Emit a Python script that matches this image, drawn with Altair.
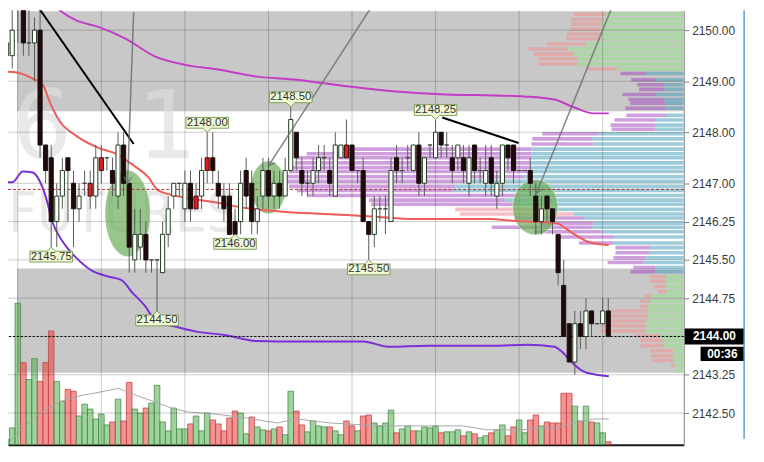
import math
import altair as alt
import pandas as pd

# 5-minute bars, oldest first (prices in index points)
opens = [2149.25, 2149.5, 2149.5, 2150.75, 2151.0, 2149.75, 2149.75, 2150.0, 2147.75, 2147.5,
         2146.25, 2146.75, 2147.5, 2147.0, 2146.5, 2147.0, 2147.0, 2146.75, 2147.5, 2147.5,
         2147.25, 2146.75, 2147.75, 2147.0, 2145.5, 2145.75, 2146.0, 2145.5, 2145.5, 2145.25,
         2146.0, 2146.75, 2147.0, 2146.5, 2147.0, 2146.75, 2146.75, 2147.5, 2147.5, 2147.0,
         2146.75, 2146.75, 2146.25, 2146.25, 2147.25, 2147.0, 2146.25, 2146.75, 2147.25, 2146.75,
         2147.0, 2146.75, 2147.25, 2148.0, 2147.25, 2147.0, 2147.0, 2147.25, 2147.5, 2147.25,
         2146.75, 2147.5, 2147.75, 2147.75, 2147.25, 2147.25, 2146.25, 2146.0, 2146.5, 2146.5,
         2146.25, 2147.5, 2147.25, 2147.5, 2147.25, 2147.75, 2147.0, 2147.75, 2147.5, 2148.0,
         2147.75, 2147.5, 2147.5, 2147.5, 2147.0, 2147.75, 2147.25, 2147.0, 2147.5, 2146.75,
         2147.0, 2147.75, 2147.75, 2147.25, 2147.25, 2147.25, 2146.75, 2146.25, 2146.75, 2146.5,
         2146.0, 2145.0, 2144.25, 2143.5, 2144.25, 2144.0, 2144.5, 2144.25, 2144.25, 2144.5]
highs = [2149.75, 2150.0, 2150.5, 2151.5, 2151.25, 2150.5, 2150.25, 2150.5, 2147.75, 2147.75,
         2147.0, 2147.5, 2147.5, 2147.25, 2147.0, 2147.25, 2147.25, 2147.75, 2147.75, 2147.5,
         2147.5, 2148.0, 2148.0, 2147.0, 2146.5, 2146.5, 2146.25, 2145.5, 2145.5, 2146.25,
         2146.75, 2147.0, 2147.0, 2147.25, 2147.25, 2147.0, 2147.5, 2148.0, 2148.0, 2147.25,
         2147.0, 2147.0, 2146.5, 2147.25, 2147.5, 2147.25, 2146.75, 2147.5, 2147.5, 2147.25,
         2147.25, 2147.5, 2148.5, 2148.0, 2147.5, 2147.25, 2147.5, 2147.75, 2147.75, 2147.5,
         2148.0, 2147.75, 2148.25, 2147.75, 2147.25, 2147.5, 2146.25, 2146.75, 2146.75, 2146.75,
         2147.5, 2147.75, 2147.5, 2147.75, 2147.75, 2148.0, 2147.5, 2147.75, 2148.25, 2148.0,
         2148.0, 2147.75, 2147.75, 2147.75, 2147.75, 2147.75, 2147.5, 2147.75, 2147.75, 2147.25,
         2147.75, 2147.75, 2147.75, 2147.25, 2147.25, 2147.5, 2147.0, 2146.75, 2146.75, 2146.5,
         2146.0, 2145.5, 2144.25, 2144.5, 2144.5, 2144.75, 2144.5, 2144.25, 2144.75, 2144.75]
lows = [2149.0, 2149.25, 2149.25, 2149.75, 2149.5, 2149.5, 2149.0, 2147.5, 2147.0, 2145.75,
        2145.75, 2146.5, 2146.25, 2145.75, 2146.25, 2146.75, 2146.5, 2146.5, 2147.0, 2147.25,
        2146.75, 2146.5, 2146.75, 2145.25, 2145.25, 2145.5, 2145.25, 2145.25, 2144.5, 2145.25,
        2145.75, 2146.5, 2146.75, 2146.25, 2146.25, 2146.5, 2146.5, 2147.0, 2147.0, 2146.5,
        2146.25, 2146.0, 2146.0, 2146.0, 2146.5, 2146.0, 2146.0, 2146.5, 2146.5, 2146.5,
        2146.5, 2146.75, 2147.25, 2147.25, 2146.75, 2146.75, 2146.75, 2147.0, 2147.25, 2146.75,
        2146.75, 2147.5, 2147.5, 2147.25, 2147.0, 2146.25, 2145.5, 2145.75, 2146.25, 2146.0,
        2146.25, 2147.0, 2147.0, 2147.25, 2147.25, 2146.75, 2146.75, 2147.5, 2147.5, 2147.5,
        2147.5, 2147.0, 2147.25, 2147.0, 2146.75, 2147.0, 2147.0, 2146.75, 2146.75, 2146.5,
        2146.75, 2147.25, 2147.0, 2147.25, 2147.25, 2146.75, 2146.0, 2146.0, 2146.25, 2146.0,
        2145.0, 2144.0, 2143.5, 2143.25, 2143.75, 2143.75, 2144.0, 2144.25, 2144.25, 2144.0]
closes = [2149.5, 2149.75, 2150.0, 2151.25, 2149.75, 2149.75, 2150.0, 2147.75, 2147.25, 2146.25,
          2146.75, 2147.25, 2147.25, 2146.5, 2146.75, 2147.0, 2146.75, 2147.5, 2147.25, 2147.5,
          2147.0, 2147.75, 2147.0, 2145.75, 2146.0, 2146.0, 2145.5, 2145.5, 2145.5, 2146.0,
          2146.5, 2147.0, 2147.0, 2147.0, 2146.5, 2146.5, 2147.25, 2147.25, 2147.25, 2146.75,
          2146.5, 2146.0, 2146.0, 2147.0, 2146.75, 2146.25, 2146.5, 2147.25, 2146.75, 2147.0,
          2146.75, 2147.25, 2148.25, 2147.5, 2147.0, 2147.0, 2147.25, 2147.5, 2147.5, 2147.0,
          2147.75, 2147.75, 2147.5, 2147.25, 2147.25, 2146.25, 2146.0, 2146.5, 2146.5, 2146.5,
          2147.25, 2147.25, 2147.25, 2147.5, 2147.75, 2147.0, 2147.5, 2147.75, 2148.0, 2147.75,
          2147.75, 2147.25, 2147.75, 2147.25, 2147.5, 2147.25, 2147.25, 2147.25, 2147.0, 2147.0,
          2147.75, 2147.5, 2147.25, 2147.25, 2147.25, 2147.0, 2146.25, 2146.5, 2146.5, 2146.25,
          2145.25, 2144.0, 2143.5, 2144.25, 2144.0, 2144.5, 2144.25, 2144.25, 2144.5, 2144.0]
red_bars = [16, 18, 35, 37, 62]

volume = [5, 5, 17, 143, 83, 66, 87, 64, 83, 115,
          64, 44, 56, 54, 29, 41, 36, 26, 31, 20,
          23, 46, 24, 63, 36, 32, 37, 42, 60, 23,
          14, 37, 16, 16, 21, 29, 14, 32, 25, 21,
          14, 27, 34, 32, 11, 28, 18, 15, 14, 16,
          18, 10, 54, 34, 20, 13, 24, 19, 18, 18,
          14, 10, 24, 19, 14, 29, 30, 22, 19, 22,
          35, 12, 16, 19, 14, 14, 18, 17, 19, 12,
          13, 13, 15, 9, 13, 11, 7, 9, 12, 15,
          20, 9, 18, 25, 12, 25, 30, 19, 23, 22,
          22, 52, 52, 39, 24, 39, 23, 22, 12, 3]
volume_side = ("ggggrggrrr" "ggrrgggggg" "rgrrggrggg" "ggggrgggrr" "rrrggrggrg"
               "rggrrggggr" "ggrrgrrggg" "grggrggggr" "gggrgrggrg" "grrggrrgrr"
               "rrrgrgrggr")

# volume moving average, read at bar positions
vma_bar = [1.6, 3.4, 5.7, 8.7, 11.7, 14.6, 17.6, 21.1, 22.4, 24.7, 27.7, 30.6, 33.6, 38.4, 41.2, 44.2,
           47.2, 49.6, 51.3, 53.1, 59.0, 65.0, 70.9, 78.0, 82.8, 87.4, 93.4, 96.3, 99.8, 102.8, 106.4, 109.1]
vma_val = [4, 14, 26, 38, 46, 50, 53, 57, 54, 49, 43, 37, 33, 31, 29, 27,
           24, 22, 24, 26, 22, 20, 19, 19, 19, 15, 15, 17, 17, 22, 26, 26]

# price indicator lines
upper_bar = [9.1, 11.0, 13.5, 17.6, 22.4, 27.7, 33.0, 38.4, 46.0, 53.1, 62.0, 70.9, 79.8, 88.6, 94.0,
             99.3, 102.8, 106.4, 109.1]
upper_price = [2150.54, 2150.35, 2150.19, 2150.06, 2149.83, 2149.48, 2149.32, 2149.24, 2149.09, 2149.03,
               2148.90, 2148.80, 2148.74, 2148.72, 2148.70, 2148.64, 2148.49, 2148.37, 2148.37]
mid_bar = [-0.2, 2.8, 5.7, 7.5, 8.7, 10.5, 13.5, 17.6, 20.6, 23.4, 26.5, 28.2, 33.0, 38.4, 44.2, 50.1,
           56.1, 62.0, 67.9, 73.9, 79.8, 87.7, 92.5, 99.6, 102.5, 105.5, 109.1]
mid_price = [2149.19, 2149.17, 2149.05, 2148.93, 2148.60, 2148.22, 2147.93, 2147.69, 2147.58, 2147.38,
             2147.11, 2146.86, 2146.72, 2146.63, 2146.51, 2146.45, 2146.41, 2146.38, 2146.34, 2146.30,
             2146.30, 2146.30, 2146.26, 2146.22, 2146.03, 2145.85, 2145.79]
lower_bar = [-0.2, 2.0, 3.9, 5.7, 6.9, 8.2, 9.1, 10.1, 11.7, 13.5, 16.3, 19.4, 21.7, 23.4, 25.9, 27.9,
             30.6, 35.3, 40.1, 46.0, 53.1, 65.0, 69.6, 76.7, 88.6, 94.5, 99.3, 100.5, 102.3, 104.6,
             106.4, 109.1]
lower_price = [2147.02, 2147.02, 2147.23, 2147.21, 2147.05, 2146.67, 2146.28, 2146.03, 2145.76, 2145.54,
               2145.29, 2145.17, 2145.10, 2144.88, 2144.59, 2144.28, 2144.21, 2144.09, 2144.03, 2143.91,
               2143.90, 2143.90, 2143.80, 2143.82, 2143.82, 2143.84, 2143.80, 2143.72, 2143.51, 2143.31,
               2143.26, 2143.22]

# volume profile at the right edge: total and ask part per price row
prof_price = [2150.50, 2150.43, 2150.31, 2150.21, 2150.12, 2150.02, 2149.92, 2149.83, 2149.73, 2149.63,
              2149.53, 2149.44, 2149.34, 2149.24, 2149.15, 2149.03, 2148.93, 2148.84, 2148.74, 2148.64,
              2148.57, 2148.47, 2148.33, 2148.24, 2148.14, 2148.06, 2147.97, 2147.87, 2147.77, 2147.67,
              2147.58, 2147.50, 2147.40, 2147.31, 2147.23, 2147.13, 2147.04, 2146.94, 2146.86, 2146.76,
              2146.67, 2146.59, 2146.49, 2146.40, 2146.32, 2146.22, 2146.14, 2146.05, 2145.95, 2145.83,
              2145.74, 2145.64, 2145.54, 2145.45, 2145.35, 2145.27, 2145.17, 2145.08, 2144.98, 2144.88,
              2144.79, 2144.69, 2144.59, 2144.50, 2144.40, 2144.30, 2144.21, 2144.11, 2144.01, 2143.92,
              2143.82, 2143.72, 2143.62, 2143.53, 2143.43, 2143.33]
prof_total = [105, 109, 111, 114, 114, 116, 118, 119, 138, 158,
              152, 148, 147, 98, 64, 53, 47, 45, 62, 56,
              54, 59, 58, 70, 74, 73, 143, 153, 154, 348,
              381, 391, 393, 396, 399, 401, 401, 399, 391, 381,
              318, 316, 231, 226, 171, 146, 194, 151, 129, 106,
              69, 69, 71, 77, 51, 54, 34, 34, 30, 26,
              39, 44, 44, 74, 74, 74, 84, 84, 49, 44,
              44, 34, 33, 32, 13, 9]
prof_ask = [71, 79, 79, 81, 84, 84, 84, 84, 99, 117,
            112, 108, 108, 68, 39, 28, 20, 20, 28, 20,
            19, 19, 18, 28, 29, 29, 86, 93, 91, 154,
            154, 154, 155, 154, 154, 161, 221, 231, 233, 166,
            181, 171, 131, 111, 101, 91, 93, 83, 71, 71,
            34, 34, 39, 41, 29, 29, 18, 18, 18, 18,
            33, 34, 36, 36, 36, 38, 38, 38, 24, 21,
            21, 11, 11, 11, 9, 9]
prof_zone = ("oooooooooooooo" "iiiiiiiiiiiiiiiiiiiiiiiiiiii" "pp" "iiiiiiiiiiii" "oooooooooooooooooooo")

tick_prices = [2150.0, 2149.0, 2148.0, 2147.0, 2146.25, 2145.5, 2144.75, 2144.0, 2143.25, 2142.5]
session_bars = [3, 18, 33, 48, 63, 78, 93, 108]
band_lo = [2148.41, 2143.29]
band_hi = [2150.37, 2145.33]
band_from = 2.85

swing_bar = [9, 37, 42, 28, 52, 66, 78]
swing_price = [2145.75, 2148.00, 2146.00, 2144.50, 2148.50, 2145.50, 2148.25]
swing_side = ["low", "high", "low", "low", "high", "low", "high"]

zone_bar = [22.7, 48.0, 95.9]
zone_price = [2146.41, 2146.92, 2146.53]

trend_bar = [[6.93, 23.8], [79.2, 92.9]]
trend_price = [[2150.41, 2147.77], [2148.29, 2147.79]]

arrow_bar = [[23.8, 22.7], [67.0, 48.0], [110.0, 96.1]]
arrow_price = [[2150.35, 2147.0], [2150.54, 2147.34], [2150.54, 2146.80]]

prior_close = 2146.88
timer = "00:36"

# ---- layout ----
BAR_PX = 5.63
PT_PX = 51.6
W, H = 683, 439
XD = [7 / BAR_PX, 690 / BAR_PX]
YD = [2150 - 419 / PT_PX, 2150 + 20 / PT_PX]
FONT = "Liberation Sans"


def X(f, **kw):
    return alt.X(f"{f}:Q", scale=alt.Scale(domain=XD, nice=False, zero=False), axis=None, **kw)


def Y(f, **kw):
    return alt.Y(f"{f}:Q", scale=alt.Scale(domain=YD, nice=False, zero=False), axis=None, **kw)


layers = []

# gray bands
bands = pd.DataFrame({"lo": band_lo, "hi": band_hi, "x0": band_from, "x1": XD[1]})
layers.append(alt.Chart(bands).mark_rect(color="#c8c8c8").encode(x=X("x0"), x2="x1", y=Y("lo"), y2="hi"))

# watermark
wm = pd.DataFrame({"i": [7.3, 29.8], "p": [2147.5, 2147.5], "t": ["6", "1"]})
layers.append(alt.Chart(wm).mark_text(font="DejaVu Sans", fontSize=95, color="#dedede", opacity=0.65,
                                      baseline="alphabetic", align="center")
              .encode(x=X("i"), y=Y("p"), text="t:N"))
wm2 = pd.DataFrame({"i": [1.3], "p": [2146.07], "t": ["FUTURES"]})
layers.append(alt.Chart(wm2).mark_text(font="DejaVu Sans Condensed", fontSize=56, color="#dedede",
                                       opacity=0.65, baseline="alphabetic", align="left")
              .encode(x=X("i"), y=Y("p"), text="t:N"))

# volume profile
assert len(prof_zone) == len(prof_price) == len(prof_total) == len(prof_ask)
prof = pd.DataFrame({"p": prof_price, "tot": prof_total, "ask": prof_ask, "zone": list(prof_zone)})
prof["lo"] = prof.p - 0.035
prof["hi"] = prof.p + 0.035
prof["zero"] = 0
prof["lcol"] = prof.zone.map({"o": "#f48e8e", "i": "#a346be", "p": "#ed8092"})
prof["rcol"] = prof.zone.map({"o": "#8ee57f", "i": "#449bb8", "p": "#449bb8"})
PX = alt.Scale(domain=[0, W], reverse=True, nice=False, zero=False)
layers.append(alt.Chart(prof).mark_rect(opacity=0.52, clip=True).encode(
    x=alt.X("tot:Q", scale=PX, axis=None), x2="ask", y=Y("lo"), y2="hi",
    fill=alt.Fill("lcol:N", scale=None)))
layers.append(alt.Chart(prof).mark_rect(opacity=0.52, clip=True).encode(
    x=alt.X("ask:Q", scale=PX, axis=None), x2="zero", y=Y("lo"), y2="hi",
    fill=alt.Fill("rcol:N", scale=None)))

# volume bars
n = len(opens)
assert len(volume_side) == n == len(volume)
vol = pd.DataFrame({"i": range(n), "v": volume, "side": list(volume_side)})
vol["x0"] = vol.i - 0.5
vol["x1"] = vol.i + 0.5
vol["base"] = 0
vol["fillc"] = vol.side.map({"g": "#4fae4f", "r": "#ea3b3b"})
vol["strokec"] = vol.side.map({"g": "#4c8c4c", "r": "#c24a4a"})
VS = alt.Scale(domain=[0, H], nice=False, zero=False)
layers.append(alt.Chart(vol).mark_rect(fillOpacity=0.55, strokeWidth=0.8, clip=True).encode(
    x=X("x0"), x2="x1", y=alt.Y("v:Q", scale=VS, axis=None), y2="base",
    fill=alt.Fill("fillc:N", scale=None), stroke=alt.Stroke("strokec:N", scale=None)))
vma = pd.DataFrame({"i": vma_bar, "v": vma_val})
layers.append(alt.Chart(vma).mark_line(color="#a8a8a8", strokeWidth=1, clip=True).encode(
    x=X("i"), y=alt.Y("v:Q", scale=VS, axis=None)))

# grid + axes
hgrid = pd.DataFrame({"p": tick_prices})
layers.append(alt.Chart(hgrid).mark_rule(color="black", opacity=0.2, strokeWidth=1).encode(
    y=alt.Y("p:Q", scale=alt.Scale(domain=YD, nice=False, zero=False),
            axis=alt.Axis(orient="right", values=tick_prices, format=".2f", grid=False, title=None,
                          domainColor="#808080", tickColor="#808080", tickSize=5, labelPadding=3,
                          labelFont=FONT, labelFontSize=12, labelColor="#3a3a3a"))))
vgrid = pd.DataFrame({"i": session_bars})
layers.append(alt.Chart(vgrid).mark_rule(color="black", opacity=0.2, strokeWidth=1).encode(
    x=alt.X("i:Q", scale=alt.Scale(domain=XD, nice=False, zero=False),
            axis=alt.Axis(orient="bottom", domainColor="#1a1a1a", domainWidth=2, labels=False,
                          ticks=False, grid=False, title=None))))

# highlighted zones
for k, (rx, ry) in enumerate([(22, 43), (17, 26), (23, 28)]):
    a = rx / ry
    path = f"M{-a:.3f},0A{a:.3f},1 0 1,0 {a:.3f},0A{a:.3f},1 0 1,0 {-a:.3f},0Z"
    z = pd.DataFrame({"i": [zone_bar[k]], "p": [zone_price[k]]})
    layers.append(alt.Chart(z).mark_point(shape=path, size=(2 * ry) ** 2, filled=True, color="#6aae5a",
                                          opacity=0.7, stroke="#e4f0da" if k == 2 else "#6aae5a",
                                          strokeWidth=1)
                  .encode(x=X("i"), y=Y("p")))

# indicator lines
for bars_, prices_, col in [(upper_bar, upper_price, "#c43cc6"), (mid_bar, mid_price, "#ee5c5c"),
                            (lower_bar, lower_price, "#7b2fd6")]:
    d = pd.DataFrame({"i": bars_, "p": prices_})
    layers.append(alt.Chart(d).mark_line(color=col, strokeWidth=2, clip=True, interpolate="monotone")
                  .encode(x=X("i"), y=Y("p")))

# prior close and last price lines
layers.append(alt.Chart(pd.DataFrame({"p": [prior_close]})).mark_rule(
    color="#b83030", strokeWidth=1, strokeDash=[3, 2]).encode(y=Y("p")))
layers.append(alt.Chart(pd.DataFrame({"p": [closes[-1]]})).mark_rule(
    color="black", strokeWidth=1, strokeDash=[2, 2]).encode(y=Y("p")))

# candles
kind = []
for i in range(n):
    if i in red_bars:
        kind.append("red")
    elif closes[i] > opens[i]:
        kind.append("up")
    elif closes[i] < opens[i]:
        kind.append("down")
    else:
        kind.append("doji")
cd = pd.DataFrame({"i": range(n), "o": opens, "h": highs, "l": lows, "c": closes, "kind": kind})
cd["x0"] = cd.i - 0.37
cd["x1"] = cd.i + 0.37
cd["fillc"] = cd.kind.map({"up": "#ffffff", "down": "#1d0b0b", "red": "#e01b1b", "doji": "#ffffff"})
cd["strokec"] = cd.kind.map({"up": "#1e3b1e", "down": "#1d0b0b", "red": "#3b0d0d", "doji": "#444444"})
layers.append(alt.Chart(cd).mark_rule(color="#5a5a5a", strokeWidth=1, clip=True).encode(
    x=X("i"), y=Y("l"), y2="h"))
layers.append(alt.Chart(cd).mark_rect(strokeWidth=1, clip=True).encode(
    x=X("x0"), x2="x1", y=Y("o"), y2="c",
    fill=alt.Fill("fillc:N", scale=None), stroke=alt.Stroke("strokec:N", scale=None)))

# trend lines
tl = pd.DataFrame([{"g": g, "i": b, "p": p} for g in range(len(trend_bar))
                   for b, p in zip(trend_bar[g], trend_price[g])])
layers.append(alt.Chart(tl).mark_line(color="black", strokeWidth=2, clip=True).encode(
    x=X("i"), y=Y("p"), detail="g:N"))

# arrows
ar = pd.DataFrame([{"g": g, "i": b, "p": p} for g in range(len(arrow_bar))
                   for b, p in zip(arrow_bar[g], arrow_price[g])])
layers.append(alt.Chart(ar).mark_line(color="#6e6e6e", strokeWidth=1.5, opacity=0.85, clip=True).encode(
    x=X("i"), y=Y("p"), detail="g:N"))
for g in range(len(arrow_bar)):
    dx = (arrow_bar[g][1] - arrow_bar[g][0]) * BAR_PX
    dy = (arrow_price[g][0] - arrow_price[g][1]) * PT_PX
    ang = math.degrees(math.atan2(-dx, dy)) % 360
    head = pd.DataFrame({"i": [arrow_bar[g][1]], "p": [arrow_price[g][1]]})
    layers.append(alt.Chart(head).mark_point(shape="M-0.6,-1L0,0L0.6,-1", size=160, filled=False,
                                             color="#6e6e6e", strokeWidth=1.5, angle=ang)
                  .encode(x=X("i"), y=Y("p")))

# swing high / low tags
HIGH_TAG = "M0,0L0.19,-0.19L1,-0.19L1,-0.7L-1,-0.7L-1,-0.19L-0.19,-0.19Z"
LOW_TAG = "M0,0L0.19,0.19L1,0.19L1,0.7L-1,0.7L-1,0.19L-0.19,0.19Z"
sw = pd.DataFrame({"i": swing_bar, "p": swing_price, "side": swing_side})
sw["t"] = sw.p.map(lambda v: f"{v:.2f}")
for side, path, dy in [("high", HIGH_TAG, -9.6), ("low", LOW_TAG, 9.6)]:
    s = sw[sw.side == side]
    layers.append(alt.Chart(s).mark_point(shape=path, size=1849, filled=True, fill="#f0f8d4",
                                          stroke="#7ea05a", strokeWidth=1, opacity=1)
                  .encode(x=X("i"), y=Y("p")))
    layers.append(alt.Chart(s).mark_text(font=FONT, fontSize=11.5, color="#333333", dy=dy)
                  .encode(x=X("i"), y=Y("p"), text="t:N"))

# last price and bar timer at the axis
lp = pd.DataFrame({"p": [closes[-1]], "t": [f"{closes[-1]:.2f}"]})
lp["lo"] = lp.p - 0.155
lp["hi"] = lp.p + 0.155
layers.append(alt.Chart(lp).mark_rect(color="black").encode(
    x=alt.value(684), x2=alt.value(744), y=Y("lo"), y2="hi"))
layers.append(alt.Chart(lp).mark_text(font=FONT, fontSize=12, fontWeight="bold", color="white")
              .encode(x=alt.value(714), y=Y("p"), text="t:N"))
tm = pd.DataFrame({"p": [closes[-1] - 0.34], "t": [timer]})
tm["lo"] = tm.p - 0.14
tm["hi"] = tm.p + 0.14
layers.append(alt.Chart(tm).mark_rect(color="black").encode(
    x=alt.value(700), x2=alt.value(744), y=Y("lo"), y2="hi"))
layers.append(alt.Chart(tm).mark_text(font=FONT, fontSize=12, fontWeight="bold", color="white")
              .encode(x=alt.value(722), y=Y("p"), text="t:N"))
layers.append(alt.Chart(tm).mark_rule(color="#5b9fd6", strokeWidth=1.5).encode(
    x=alt.value(744), y=alt.value(0), y2=alt.value(433)))

chart = alt.layer(*layers).resolve_scale(x="independent", y="independent").properties(
    width=W, height=H,
    autosize=alt.AutoSizeParams(type="none"),
    padding={"left": 0, "top": 0, "right": 73, "bottom": 7},
    background="white",
).configure_view(strokeWidth=0)

chart.save("out.html", embed_options={"renderer": "svg", "actions": False})
